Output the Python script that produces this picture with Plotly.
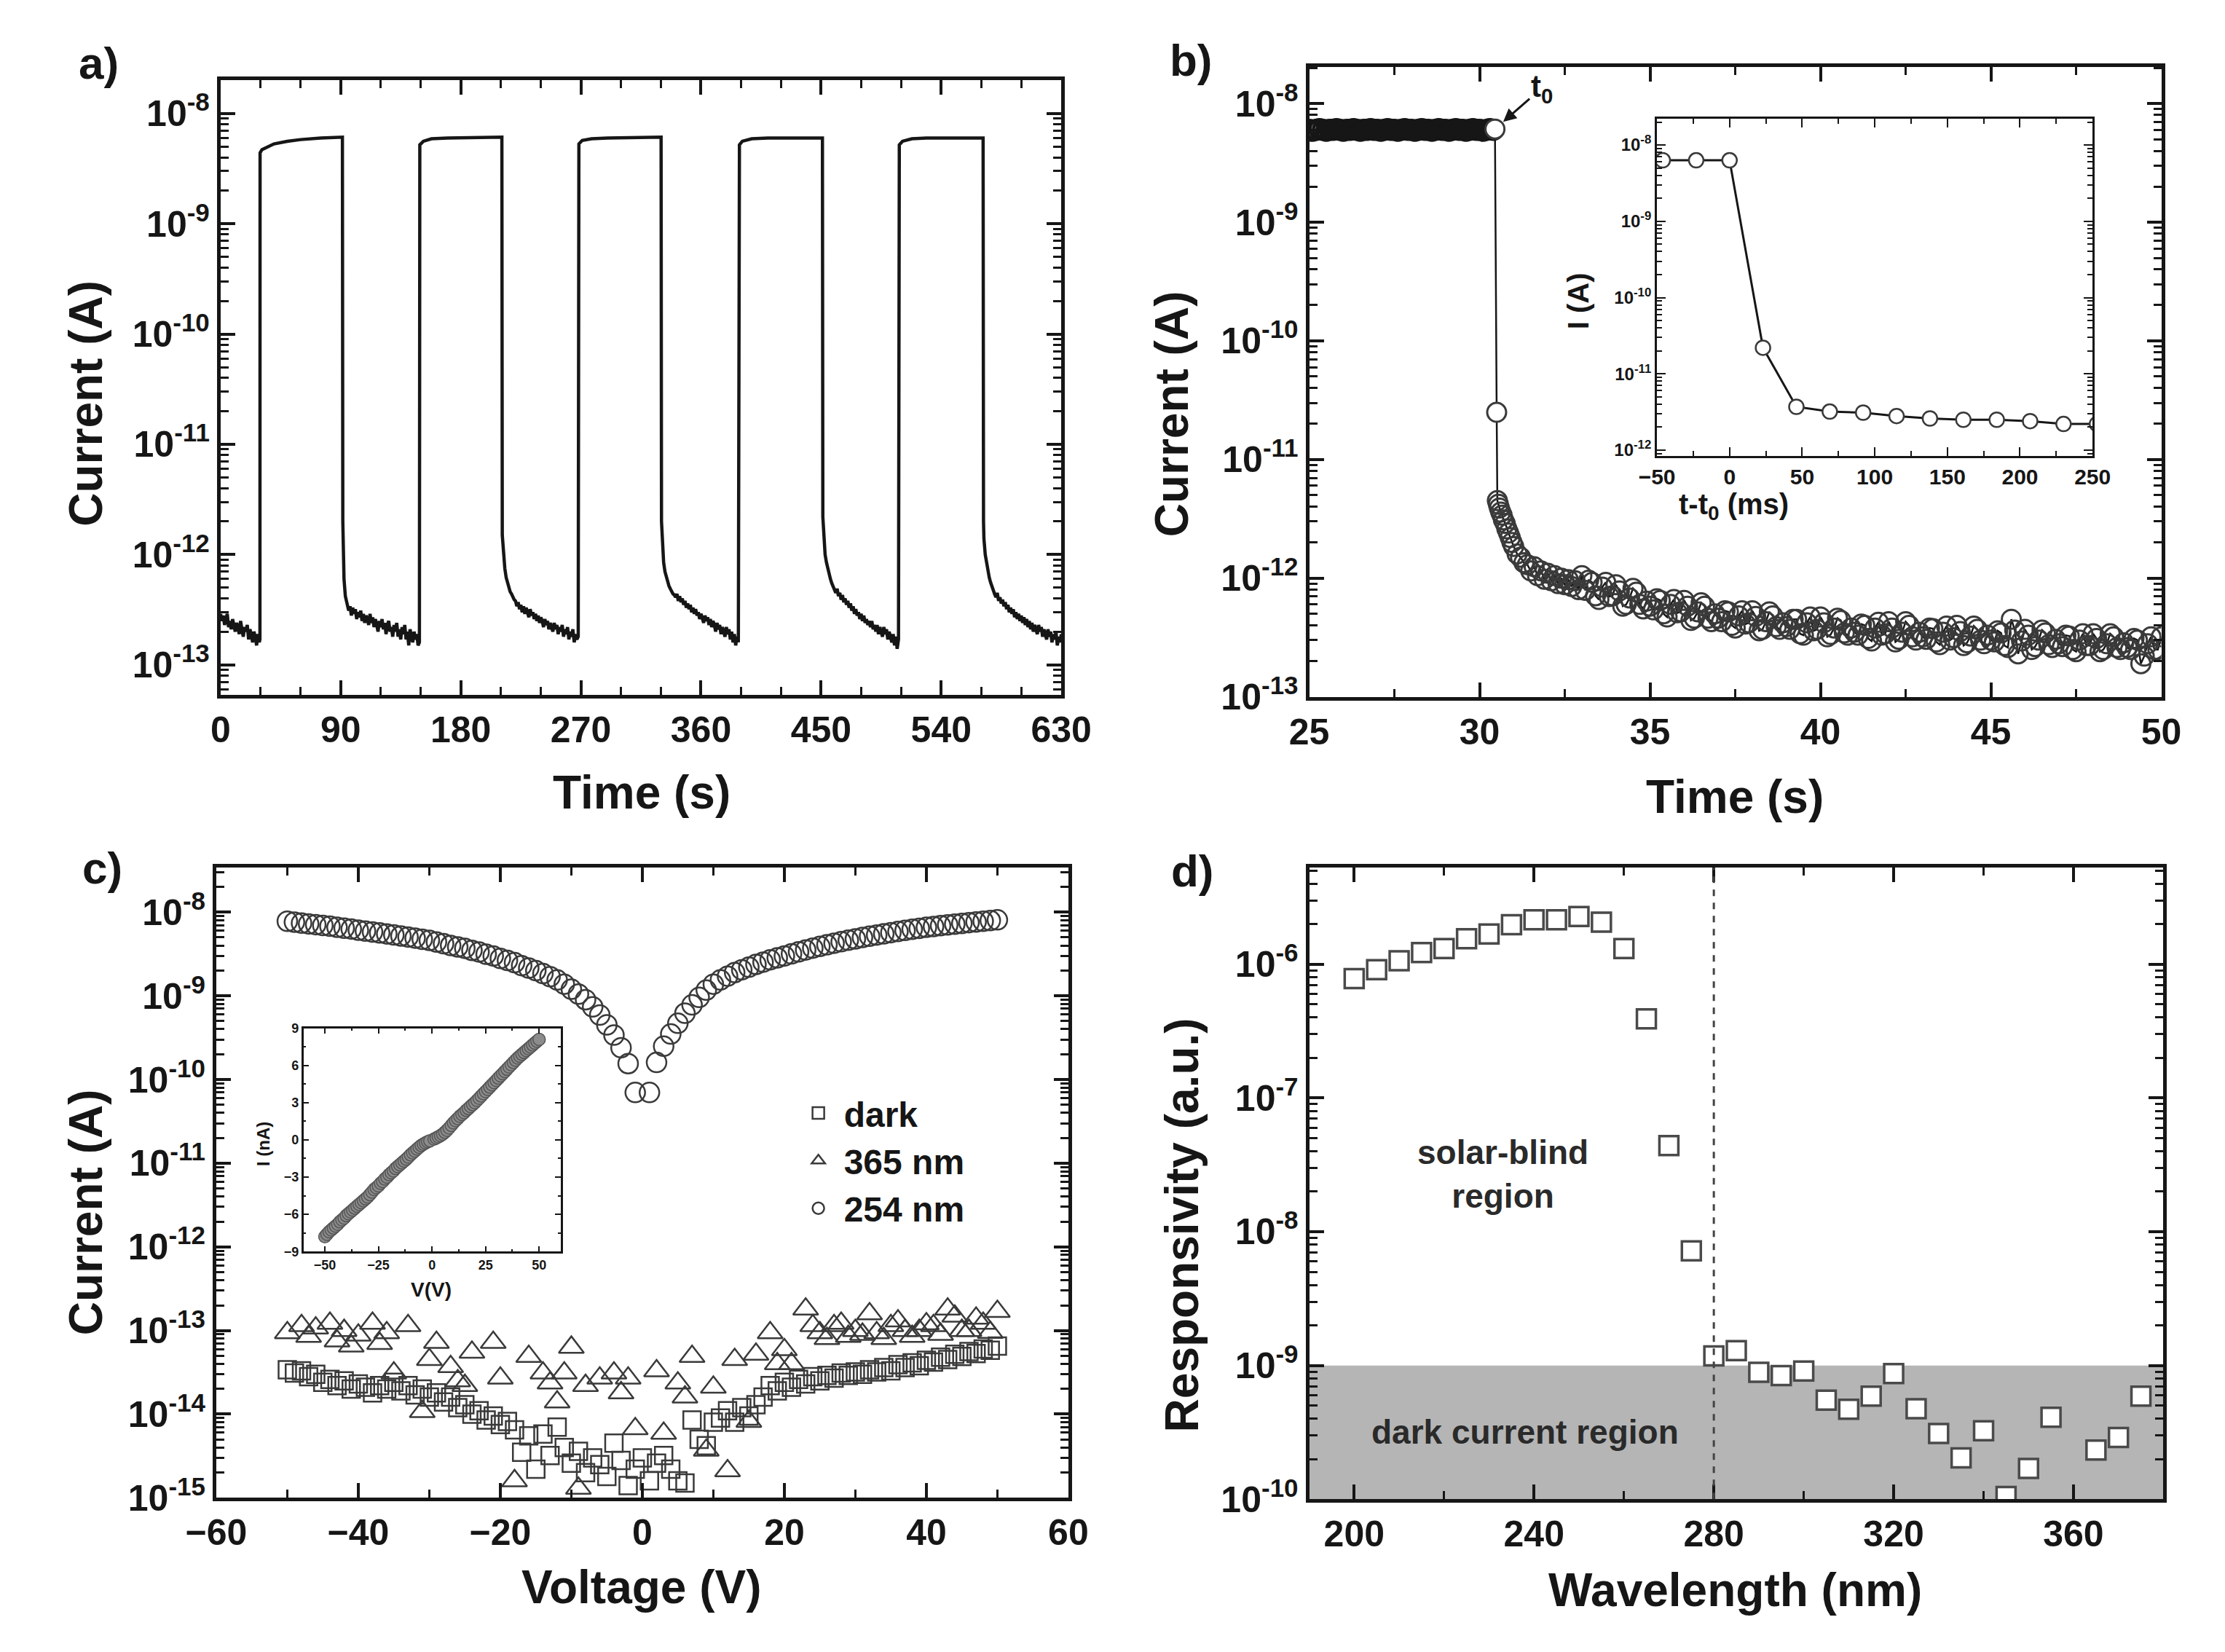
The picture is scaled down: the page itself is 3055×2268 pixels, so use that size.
import math
import plotly.graph_objects as go

W, H = 3055, 2268
FONT = "Liberation Sans, Arial, Helvetica, sans-serif"
INK = "#161616"
MARK = "#3a3a3a"

# ---------------- a) on/off switching under 254 nm ----------------
T_A = [
    0, 1, 2, 3, 4, 5, 6, 7, 8, 9, 10, 11, 12, 13, 14, 15, 16, 17, 18, 19, 20, 21, 22, 23, 24, 25, 26, 27,
    28, 29, 29.5,
    29.6, 31, 35, 40, 50, 60, 75, 91.3,
    91.6, 92.5, 93.5, 95, 96, 97, 98, 99, 100, 101, 102, 103, 104, 105, 106, 107, 108, 109, 110, 111,
    112, 113, 114, 115, 116, 117, 118, 119, 120, 121, 122, 123, 124, 125, 126, 127, 128, 129, 130, 131,
    132, 133, 134, 135, 136, 137, 138, 139, 140, 141, 142, 143, 144, 145, 146, 147, 148, 149,
    149.3, 152, 158, 170, 190, 210.8,
    211.1, 212, 213, 214, 215, 216, 217, 218, 219, 220, 221, 222, 223, 224, 225, 226, 227, 228, 229,
    230, 231, 232, 233, 234, 235, 236, 237, 238, 239, 240, 241, 242, 243, 244, 245, 246, 247, 248, 249,
    250, 251, 252, 253, 254, 255, 256, 257, 258, 259, 260, 261, 262, 263, 264, 265, 266, 267, 268,
    268.5, 271, 278, 290, 310, 330.1,
    330.4, 331, 332, 333, 334, 335, 336, 337, 338, 339, 340, 341, 342, 343, 344, 345, 346, 347, 348,
    349, 350, 351, 352, 353, 354, 355, 356, 357, 358, 359, 360, 361, 362, 363, 364, 365, 366, 367, 368,
    369, 370, 371, 372, 373, 374, 375, 376, 377, 378, 379, 380, 381, 382, 383, 384, 385, 386, 387, 388,
    388.8, 391, 398, 410, 430, 451,
    451.3, 452, 453, 454, 455, 456, 457, 458, 459, 460, 461, 462, 463, 464, 465, 466, 467, 468, 469,
    470, 471, 472, 473, 474, 475, 476, 477, 478, 479, 480, 481, 482, 483, 484, 485, 486, 487, 488, 489,
    490, 491, 492, 493, 494, 495, 496, 497, 498, 499, 500, 501, 502, 503, 504, 505, 506, 507, 508,
    508.6, 511, 518, 530, 550, 571.4,
    571.7, 572, 573, 574, 575, 576, 577, 578, 579, 580, 581, 582, 583, 584, 585, 586, 587, 588, 589,
    590, 591, 592, 593, 594, 595, 596, 597, 598, 599, 600, 601, 602, 603, 604, 605, 606, 607, 608, 609,
    610, 611, 612, 613, 614, 615, 616, 617, 618, 619, 620, 621, 622, 623, 624, 625, 626, 627, 628, 629,
    630,
]
I_A = [
    2.9e-13, 2.5e-13, 2.8e-13, 2.3e-13, 2.6e-13, 2.9e-13, 2.2e-13, 2.5e-13, 2.1e-13, 2.6e-13, 2.3e-13,
    2.0e-13, 2.4e-13, 2.2e-13, 1.9e-13, 2.5e-13, 2.1e-13, 1.8e-13, 2.2e-13, 2.0e-13, 2.3e-13, 1.7e-13,
    2.1e-13, 1.9e-13, 1.6e-13, 2.0e-13, 1.8e-13, 1.5e-13, 1.9e-13, 1.6e-13, 1.7e-13,
    4.4e-9, 4.7e-9, 5.0e-9, 5.3e-9, 5.6e-9, 5.8e-9, 6.0e-9, 6.1e-9,
    2.0e-12, 6.0e-13, 4.2e-13, 3.6e-13, 3.1e-13, 3.4e-13, 2.8e-13, 3.3e-13, 2.9e-13, 3.2e-13, 2.6e-13,
    3.0e-13, 2.7e-13, 3.1e-13, 2.5e-13, 2.9e-13, 2.4e-13, 2.8e-13, 2.6e-13, 2.3e-13, 2.9e-13, 2.4e-13,
    2.7e-13, 2.2e-13, 2.6e-13, 2.3e-13, 2.0e-13, 2.5e-13, 2.2e-13, 2.6e-13, 2.1e-13, 2.4e-13, 1.9e-13,
    2.3e-13, 2.5e-13, 2.0e-13, 2.2e-13, 1.8e-13, 2.3e-13, 2.0e-13, 2.4e-13, 1.8e-13, 2.1e-13, 1.7e-13,
    2.2e-13, 1.9e-13, 2.3e-13, 1.7e-13, 2.0e-13, 1.5e-13, 2.1e-13, 1.8e-13, 1.6e-13, 2.0e-13, 1.7e-13,
    1.9e-13, 1.5e-13, 1.6e-13,
    5.2e-9, 5.6e-9, 5.9e-9, 6.0e-9, 6.1e-9, 6.1e-9,
    1.5e-12, 9.5e-13, 7.5e-13, 6.2e-13, 5.5e-13, 5.0e-13, 4.6e-13, 4.4e-13, 4.1e-13, 3.9e-13, 3.8e-13,
    3.4e-13, 3.7e-13, 3.2e-13, 3.5e-13, 3.0e-13, 3.4e-13, 2.9e-13, 3.3e-13, 3.0e-13, 2.7e-13, 3.2e-13,
    2.8e-13, 3.0e-13, 2.6e-13, 2.9e-13, 2.5e-13, 2.8e-13, 2.4e-13, 2.7e-13, 2.5e-13, 2.2e-13, 2.6e-13,
    2.3e-13, 2.5e-13, 2.1e-13, 2.4e-13, 2.2e-13, 2.0e-13, 2.4e-13, 2.1e-13, 2.3e-13, 1.9e-13, 2.2e-13,
    2.0e-13, 2.3e-13, 1.8e-13, 2.1e-13, 1.9e-13, 2.2e-13, 1.7e-13, 2.0e-13, 1.8e-13, 2.1e-13, 1.6e-13,
    1.9e-13, 1.7e-13, 1.8e-13,
    5.3e-9, 5.7e-9, 5.9e-9, 6.0e-9, 6.1e-9, 6.1e-9,
    2.0e-12, 1.2e-12, 8.5e-13, 7.0e-13, 6.2e-13, 5.6e-13, 5.2e-13, 4.9e-13, 4.6e-13, 4.4e-13, 4.3e-13,
    4.1e-13, 4.4e-13, 3.8e-13, 4.2e-13, 3.7e-13, 4.0e-13, 3.5e-13, 3.8e-13, 3.3e-13, 3.6e-13, 3.2e-13,
    3.5e-13, 3.0e-13, 3.3e-13, 2.9e-13, 3.2e-13, 2.8e-13, 3.0e-13, 2.6e-13, 2.9e-13, 2.7e-13, 2.4e-13,
    2.8e-13, 2.5e-13, 2.7e-13, 2.3e-13, 2.6e-13, 2.2e-13, 2.5e-13, 2.3e-13, 2.0e-13, 2.4e-13, 2.1e-13,
    2.3e-13, 1.9e-13, 2.2e-13, 2.0e-13, 1.8e-13, 2.2e-13, 1.9e-13, 2.1e-13, 1.7e-13, 2.0e-13, 1.6e-13,
    1.9e-13, 1.5e-13, 1.8e-13, 1.6e-13,
    5.2e-9, 5.6e-9, 5.9e-9, 6.0e-9, 6.0e-9, 6.0e-9,
    2.2e-12, 1.4e-12, 1.0e-12, 8.5e-13, 7.4e-13, 6.6e-13, 6.0e-13, 5.5e-13, 5.1e-13, 4.8e-13, 4.5e-13,
    4.9e-13, 4.2e-13, 4.5e-13, 3.9e-13, 4.3e-13, 3.7e-13, 4.0e-13, 3.5e-13, 3.8e-13, 3.3e-13, 3.6e-13,
    3.1e-13, 3.4e-13, 2.9e-13, 3.2e-13, 2.8e-13, 3.0e-13, 2.6e-13, 2.9e-13, 2.5e-13, 2.8e-13, 2.4e-13,
    2.6e-13, 2.3e-13, 2.5e-13, 2.2e-13, 2.5e-13, 2.1e-13, 2.3e-13, 2.0e-13, 2.3e-13, 1.9e-13, 2.2e-13,
    2.0e-13, 1.8e-13, 2.2e-13, 1.9e-13, 2.1e-13, 1.7e-13, 2.0e-13, 1.8e-13, 1.6e-13, 1.9e-13, 1.5e-13,
    1.8e-13, 1.4e-13, 1.7e-13,
    5.2e-9, 5.6e-9, 5.9e-9, 6.0e-9, 6.0e-9, 6.0e-9,
    2.0e-12, 1.4e-12, 1.0e-12, 8.2e-13, 7.0e-13, 6.2e-13, 5.6e-13, 5.1e-13, 4.7e-13, 4.4e-13, 4.1e-13,
    4.5e-13, 3.8e-13, 4.1e-13, 3.6e-13, 3.9e-13, 3.4e-13, 3.7e-13, 3.2e-13, 3.5e-13, 3.0e-13, 3.3e-13,
    2.9e-13, 3.2e-13, 2.7e-13, 3.0e-13, 2.6e-13, 2.9e-13, 2.5e-13, 2.8e-13, 2.4e-13, 2.7e-13, 2.3e-13,
    2.6e-13, 2.2e-13, 2.5e-13, 2.1e-13, 2.4e-13, 2.0e-13, 2.3e-13, 2.1e-13, 1.9e-13, 2.3e-13, 2.0e-13,
    2.2e-13, 1.8e-13, 2.1e-13, 1.9e-13, 1.7e-13, 2.1e-13, 1.8e-13, 2.0e-13, 1.6e-13, 1.9e-13, 1.7e-13,
    2.0e-13, 1.5e-13, 1.8e-13, 1.6e-13, 1.9e-13,
]

# ---------------- b) decay after switching off ----------------
T_B_LIGHT = [
    25.0, 25.1, 25.2, 25.3, 25.4, 25.5, 25.6, 25.7, 25.8, 25.9,
    26.0, 26.1, 26.2, 26.3, 26.4, 26.5, 26.6, 26.7, 26.8, 26.9,
    27.0, 27.1, 27.2, 27.3, 27.4, 27.5, 27.6, 27.7, 27.8, 27.9,
    28.0, 28.1, 28.2, 28.3, 28.4, 28.5, 28.6, 28.7, 28.8, 28.9,
    29.0, 29.1, 29.2, 29.3, 29.4, 29.5, 29.6, 29.7, 29.8, 29.9,
    30.0, 30.1, 30.2, 30.3, 30.4, 30.45,
]
I_B_LIGHT = [
    6.0e-9, 5.9e-9, 6.0e-9, 6.1e-9, 6.0e-9, 5.9e-9, 6.0e-9, 6.0e-9, 6.1e-9, 6.0e-9,
    5.9e-9, 6.0e-9, 6.0e-9, 6.1e-9, 6.0e-9, 5.9e-9, 6.0e-9, 6.0e-9, 6.1e-9, 6.0e-9,
    6.0e-9, 5.9e-9, 6.0e-9, 6.1e-9, 6.0e-9, 6.0e-9, 5.9e-9, 6.0e-9, 6.1e-9, 6.0e-9,
    6.0e-9, 5.9e-9, 6.0e-9, 6.1e-9, 6.0e-9, 6.0e-9, 5.9e-9, 6.0e-9, 6.1e-9, 6.0e-9,
    6.0e-9, 5.9e-9, 6.0e-9, 6.1e-9, 6.0e-9, 6.0e-9, 5.9e-9, 6.0e-9, 6.1e-9, 6.0e-9,
    6.0e-9, 5.9e-9, 6.0e-9, 6.1e-9, 6.0e-9, 6.1e-9,
]
T_B_DARK = [
    30.50, 30.52, 30.55, 30.58, 30.62, 30.66, 30.70, 30.75, 30.80, 30.85, 30.90, 30.95,
    31.0, 31.1, 31.2, 31.3, 31.4, 31.5, 31.6, 31.7, 31.8, 31.9,
    32.0, 32.1, 32.2, 32.3, 32.4, 32.5, 32.6, 32.7, 32.8, 32.9, 33.0,
    33.1, 33.2, 33.3, 33.4, 33.5, 33.6, 33.7, 33.8, 33.9, 34.0,
    34.1, 34.2, 34.3, 34.4, 34.5, 34.6, 34.7, 34.8, 34.9, 35.0,
    35.1, 35.2, 35.3, 35.4, 35.5, 35.6, 35.7, 35.8, 35.9, 36.0,
    36.1, 36.2, 36.3, 36.4, 36.5, 36.6, 36.7, 36.8, 36.9, 37.0,
    37.1, 37.2, 37.3, 37.4, 37.5, 37.6, 37.7, 37.8, 37.9, 38.0,
    38.1, 38.2, 38.3, 38.4, 38.5, 38.6, 38.7, 38.8, 38.9, 39.0,
    39.1, 39.2, 39.3, 39.4, 39.5, 39.6, 39.7, 39.8, 39.9, 40.0,
    40.1, 40.2, 40.3, 40.4, 40.5, 40.6, 40.7, 40.8, 40.9, 41.0,
    41.1, 41.2, 41.3, 41.4, 41.5, 41.6, 41.7, 41.8, 41.9, 42.0,
    42.1, 42.2, 42.3, 42.4, 42.5, 42.6, 42.7, 42.8, 42.9, 43.0,
    43.1, 43.2, 43.3, 43.4, 43.5, 43.6, 43.7, 43.8, 43.9, 44.0,
    44.1, 44.2, 44.3, 44.4, 44.5, 44.6, 44.7, 44.8, 44.9, 45.0,
    45.1, 45.2, 45.3, 45.4, 45.5, 45.6, 45.7, 45.8, 45.9, 46.0,
    46.1, 46.2, 46.3, 46.4, 46.5, 46.6, 46.7, 46.8, 46.9, 47.0,
    47.1, 47.2, 47.3, 47.4, 47.5, 47.6, 47.7, 47.8, 47.9, 48.0,
    48.1, 48.2, 48.3, 48.4, 48.5, 48.6, 48.7, 48.8, 48.9, 49.0,
    49.1, 49.2, 49.3, 49.4, 49.5, 49.6, 49.7, 49.8, 49.9, 50.0,
]
I_B_DARK = [
    2.5e-11, 4.5e-12, 4.2e-12, 3.9e-12, 3.6e-12, 3.4e-12, 3.1e-12, 2.9e-12, 2.6e-12, 2.4e-12, 2.2e-12, 2.0e-12,
    1.85e-12, 1.6e-12, 1.5e-12, 1.35e-12, 1.3e-12, 1.15e-12, 1.25e-12, 1.05e-12, 1.15e-12, 9.8e-13,
    1.1e-12, 9.5e-13, 1.05e-12, 9.0e-13, 1.0e-12, 8.8e-13, 9.7e-13, 8.5e-13, 9.5e-13, 8.0e-13, 1.05e-12,
    7.9e-13, 9.6e-13, 9.2e-13, 7.1e-13, 6.6e-13, 8.4e-13, 9.2e-13, 7.0e-13, 7.1e-13, 8.8e-13,
    7.8e-13, 5.8e-13, 6.0e-13, 6.8e-13, 8.2e-13, 7.6e-13, 6.0e-13, 5.5e-13, 6.4e-13, 5.8e-13,
    5.4e-13, 6.7e-13, 6.5e-13, 5.0e-13, 4.7e-13, 6.0e-13, 6.6e-13, 5.1e-13, 5.2e-13, 6.5e-13,
    5.8e-13, 4.4e-13, 4.6e-13, 5.2e-13, 6.2e-13, 5.8e-13, 4.6e-13, 4.3e-13, 5.0e-13, 4.6e-13,
    4.3e-13, 5.3e-13, 5.2e-13, 4.0e-13, 3.8e-13, 4.8e-13, 5.3e-13, 4.1e-13, 4.2e-13, 5.3e-13,
    4.75e-13, 3.6e-13, 3.7e-13, 4.3e-13, 5.2e-13, 4.8e-13, 3.9e-13, 3.7e-13, 4.2e-13, 3.9e-13,
    3.7e-13, 4.5e-13, 4.5e-13, 3.4e-13, 3.3e-13, 4.2e-13, 4.7e-13, 3.6e-13, 3.7e-13, 4.7e-13,
    4.2e-13, 3.2e-13, 3.35e-13, 3.8e-13, 4.6e-13, 4.4e-13, 3.45e-13, 3.3e-13, 3.8e-13, 3.5e-13,
    3.3e-13, 4.1e-13, 4.0e-13, 3.1e-13, 2.95e-13, 3.8e-13, 4.25e-13, 3.3e-13, 3.4e-13, 4.3e-13,
    3.8e-13, 2.9e-13, 3.05e-13, 3.5e-13, 4.3e-13, 4.0e-13, 3.2e-13, 3.0e-13, 3.5e-13, 3.2e-13,
    3.05e-13, 3.8e-13, 3.75e-13, 2.9e-13, 2.75e-13, 3.5e-13, 3.95e-13, 3.0e-13, 3.15e-13, 4.0e-13,
    3.55e-13, 2.7e-13, 2.85e-13, 3.25e-13, 3.95e-13, 3.7e-13, 3.0e-13, 2.8e-13, 3.3e-13, 3.0e-13,
    2.9e-13, 3.6e-13, 3.45e-13, 2.7e-13, 2.6e-13, 4.5e-13, 3.65e-13, 2.3e-13, 2.95e-13, 3.7e-13,
    3.3e-13, 2.5e-13, 2.65e-13, 3.0e-13, 3.65e-13, 3.45e-13, 2.75e-13, 2.6e-13, 3.05e-13, 2.8e-13,
    2.65e-13, 3.3e-13, 3.25e-13, 2.5e-13, 2.4e-13, 3.0e-13, 3.4e-13, 2.7e-13, 2.7e-13, 3.4e-13,
    3.1e-13, 2.4e-13, 2.5e-13, 2.8e-13, 3.4e-13, 3.2e-13, 2.6e-13, 2.5e-13, 2.85e-13, 2.6e-13,
    2.5e-13, 3.1e-13, 3.0e-13, 1.9e-13, 2.2e-13, 2.8e-13, 3.2e-13, 2.5e-13, 2.5e-13, 3.2e-13,
]
# inset of b): first points after t0
DT_INSET = [-46, -23, 0, 23, 46, 69, 92, 115, 138, 161, 184, 207, 230, 253]
I_INSET = [6.3e-9, 6.3e-9, 6.3e-9, 2.2e-11, 3.7e-12, 3.2e-12, 3.1e-12, 2.8e-12, 2.6e-12,
           2.5e-12, 2.5e-12, 2.4e-12, 2.2e-12, 2.2e-12]

# ---------------- c) I-V curves ----------------
V_254 = [
    -50, -49, -48, -47, -46, -45, -44, -43, -42, -41, -40, -39, -38, -37, -36, -35, -34, -33, -32, -31,
    -30, -29, -28, -27, -26, -25, -24, -23, -22, -21, -20, -19, -18, -17, -16, -15, -14, -13, -12, -11,
    -10, -9, -8, -7, -6, -5, -4, -3, -2, -1,
    1, 2, 3, 4, 5, 6, 7, 8, 9, 10, 11, 12, 13, 14, 15, 16, 17, 18, 19, 20,
    21, 22, 23, 24, 25, 26, 27, 28, 29, 30, 31, 32, 33, 34, 35, 36, 37, 38, 39, 40,
    41, 42, 43, 44, 45, 46, 47, 48, 49, 50,
]
I_254 = [
    7.8e-9, 7.6e-9, 7.4e-9, 7.25e-9, 7.1e-9, 6.95e-9, 6.8e-9, 6.6e-9, 6.45e-9, 6.3e-9,
    6.1e-9, 5.95e-9, 5.8e-9, 5.65e-9, 5.5e-9, 5.35e-9, 5.2e-9, 5.05e-9, 4.9e-9, 4.75e-9,
    4.6e-9, 4.4e-9, 4.2e-9, 4.0e-9, 3.85e-9, 3.7e-9, 3.5e-9, 3.35e-9, 3.15e-9, 3.0e-9,
    2.8e-9, 2.65e-9, 2.5e-9, 2.3e-9, 2.15e-9, 2.0e-9, 1.85e-9, 1.7e-9, 1.55e-9, 1.38e-9,
    1.2e-9, 1.05e-9, 9.0e-10, 7.4e-10, 5.9e-10, 4.5e-10, 3.4e-10, 2.4e-10, 1.55e-10, 7.0e-11,
    7.0e-11, 1.6e-10, 2.5e-10, 3.5e-10, 4.7e-10, 6.2e-10, 7.8e-10, 9.6e-10, 1.17e-9, 1.38e-9,
    1.55e-9, 1.72e-9, 1.9e-9, 2.05e-9, 2.2e-9, 2.38e-9, 2.53e-9, 2.7e-9, 2.85e-9, 3.0e-9,
    3.18e-9, 3.36e-9, 3.54e-9, 3.72e-9, 3.9e-9, 4.08e-9, 4.26e-9, 4.44e-9, 4.62e-9, 4.8e-9,
    4.98e-9, 5.16e-9, 5.34e-9, 5.52e-9, 5.7e-9, 5.88e-9, 6.06e-9, 6.24e-9, 6.42e-9, 6.6e-9,
    6.75e-9, 6.9e-9, 7.05e-9, 7.2e-9, 7.35e-9, 7.5e-9, 7.65e-9, 7.8e-9, 7.95e-9, 8.1e-9,
]
V_DARK = [
    -50, -49, -48, -47, -46, -45, -44, -43, -42, -41, -40, -39, -38, -37, -36, -35, -34, -33, -32, -31,
    -30, -29, -28, -27, -26, -25, -24, -23, -22, -21, -20, -19, -18, -17, -16, -15, -14, -13, -12, -11,
    -10, -9, -8, -7, -6, -5, -4, -3, -2, -1, 0,
    1, 2, 3, 4, 5, 6, 7, 8, 9, 10, 11, 12, 13, 14, 15, 16, 17, 18, 19, 20,
    21, 22, 23, 24, 25, 26, 27, 28, 29, 30, 31, 32, 33, 34, 35, 36, 37, 38, 39, 40,
    41, 42, 43, 44, 45, 46, 47, 48, 49, 50,
]
I_DARK = [
    3.4e-14, 3.1e-14, 3.3e-14, 2.8e-14, 3.0e-14, 2.4e-14, 2.6e-14, 2.2e-14, 2.5e-14, 2.0e-14,
    2.3e-14, 2.1e-14, 1.8e-14, 2.2e-14, 2.0e-14, 2.4e-14, 1.9e-14, 2.2e-14, 1.7e-14, 2.0e-14,
    1.6e-14, 1.8e-14, 1.4e-14, 1.6e-14, 1.2e-14, 1.3e-14, 1.0e-14, 1.1e-14, 8.5e-15, 9.5e-15,
    7.5e-15, 8.2e-15, 6.5e-15, 3.5e-15, 5.5e-15, 2.2e-15, 5.8e-15, 3.2e-15, 7.0e-15, 4.0e-15,
    2.6e-15, 3.6e-15, 2.0e-15, 3.0e-15, 2.5e-15, 1.8e-15, 4.5e-15, 2.8e-15, 1.4e-15, 2.2e-15, 3.0e-15,
    1.6e-15, 2.6e-15, 3.2e-15, 2.2e-15, 1.6e-15, 1.5e-15, 8.5e-15, 5.0e-15, 4.2e-15, 8.0e-15,
    9.0e-15, 1.1e-14, 8.0e-15, 1.2e-14, 9.5e-15, 1.3e-14, 1.6e-14, 2.2e-14, 1.9e-14, 2.4e-14,
    2.1e-14, 2.6e-14, 2.3e-14, 2.8e-14, 2.5e-14, 2.9e-14, 2.7e-14, 3.1e-14, 2.9e-14, 3.2e-14,
    3.0e-14, 3.4e-14, 3.2e-14, 3.6e-14, 3.3e-14, 3.9e-14, 3.6e-14, 4.1e-14, 3.8e-14, 4.4e-14,
    4.2e-14, 4.8e-14, 4.5e-14, 5.2e-14, 4.9e-14, 5.6e-14, 5.3e-14, 6.0e-14, 5.8e-14, 6.5e-14,
]
V_365 = [
    -50, -48, -47, -46, -44, -43, -42, -41, -40, -38, -37, -36, -35, -33, -31, -30, -29, -27, -26, -25,
    -24, -21, -20, -18, -16, -14, -13, -12, -11, -10, -9, -8, -6, -4, -3, -2, -1,
    2, 3, 5, 6, 7, 9, 10, 12, 13, 15, 16, 18, 19, 20, 21, 23, 24, 25, 26, 27, 28, 29, 30,
    31, 32, 33, 34, 35, 36, 37, 38, 39, 40, 41, 42, 43, 44, 45, 46, 47, 48, 49, 50,
]
I_365 = [
    9.4e-14, 1.14e-13, 8.5e-14, 1.07e-13, 1.22e-13, 7.5e-14, 1.0e-13, 6.5e-14, 8.8e-14, 1.22e-13,
    7.0e-14, 9.4e-14, 3.1e-14, 1.14e-13, 1.07e-14, 4.5e-14, 7.2e-14, 3.7e-14, 2.5e-14, 2.2e-14,
    5.5e-14, 7.2e-14, 2.7e-14, 1.6e-15, 4.9e-14, 3.1e-14, 2.35e-14, 1.4e-14, 3.1e-14, 6.3e-14,
    1.3e-15, 2.2e-14, 2.7e-14, 3.1e-14, 1.8e-14, 2.7e-14, 6.7e-15,
    3.3e-14, 5.9e-15, 2.35e-14, 1.6e-14, 4.9e-14, 3.7e-15, 2.1e-14, 2.1e-15, 4.5e-14, 8.2e-15,
    5.2e-14, 9.4e-14, 4.0e-14, 5.9e-14, 4.0e-14, 1.8e-13, 1.14e-13, 9.4e-14, 8.0e-14, 1.14e-13,
    1.22e-13, 8.5e-14, 1.0e-13,
    9.0e-14, 1.58e-13, 9.4e-14, 8.0e-14, 1.14e-13, 1.3e-13, 1.0e-13, 8.5e-14, 1.0e-13, 1.2e-13,
    1.14e-13, 9.0e-14, 1.8e-13, 1.48e-13, 1.0e-13, 1.0e-13, 1.4e-13, 1.22e-13, 9.5e-14, 1.69e-13,
]

# ---------------- d) spectral responsivity ----------------
WAVELENGTH = [200, 205, 210, 215, 220, 225, 230, 235, 240, 245, 250, 255, 260, 265, 270, 275, 280,
              285, 290, 295, 300, 305, 310, 315, 320, 325, 330, 335, 340, 345, 350, 355, 365, 370, 375]
RESPONSIVITY = [7.8e-7, 9.1e-7, 1.06e-6, 1.22e-6, 1.31e-6, 1.55e-6, 1.68e-6, 1.97e-6, 2.15e-6,
                2.15e-6, 2.27e-6, 2.06e-6, 1.31e-6, 3.9e-7, 4.4e-8, 7.2e-9, 1.18e-9, 1.29e-9,
                8.9e-10, 8.4e-10, 9.1e-10, 5.5e-10, 4.7e-10, 5.9e-10, 8.7e-10, 4.75e-10, 3.1e-10,
                2.04e-10, 3.25e-10, 1.05e-10, 1.7e-10, 4.1e-10, 2.33e-10, 2.9e-10, 5.9e-10]
DARK_LEVEL = 1e-9
CUTOFF_NM = 280


def px(x, y):
    """pixel position in the 3055x2268 page -> paper coords"""
    return x / W, 1 - y / H


def dom_x(a, b):
    return [a / W, b / W]


def dom_y(top, bottom):
    return [1 - bottom / H, 1 - top / H]


def log_ticks(lo, hi):
    exps = list(range(lo, hi + 1))
    return [10.0 ** e for e in exps], [f"10<sup>{e}</sup>" for e in exps]


def log_minor(lo, hi):
    return [m * 10.0 ** e for e in range(lo, hi) for m in range(2, 10)]


def frame(domain, rng, anchor, log=False, dtick=None, tick0=0, minor_dtick=None, log_span=None,
          size=50, lw=5, tlen=20):
    ax = dict(domain=domain, range=rng, anchor=anchor, type="log" if log else "linear",
              showline=True, linewidth=lw, linecolor=INK, mirror="allticks",
              ticks="inside", ticklen=tlen, tickwidth=max(lw - 1, 2), tickcolor=INK,
              showgrid=False, zeroline=False, fixedrange=True,
              tickfont=dict(family=FONT, size=size, color=INK, weight="bold"))
    minor = dict(ticks="inside", ticklen=round(tlen * 0.55), tickwidth=max(lw - 2, 2), tickcolor=INK)
    if log:
        vals, text = log_ticks(*log_span)
        ax.update(tickmode="array", tickvals=vals, ticktext=text)
        minor.update(tickmode="array", tickvals=log_minor(log_span[0] - 1, log_span[1] + 1))
    else:
        ax.update(tick0=tick0, dtick=dtick)
        minor.update(tick0=tick0, dtick=minor_dtick)
    ax["minor"] = minor
    return ax


fig = go.Figure()

# a)
fig.add_trace(go.Scatter(x=T_A, y=I_A, mode="lines", line=dict(color=INK, width=4.5),
                         xaxis="x", yaxis="y", showlegend=False))

# b) light-on points are drawn heavier so that they merge into the dark band; t0 and the
# first dark point are white-filled like in the original
n_on, n_off = len(T_B_LIGHT), len(T_B_DARK)
b_fill = ["rgba(0,0,0,0)"] * (n_on - 1) + ["white", "white"] + ["rgba(0,0,0,0)"] * (n_off - 1)
b_edge = [INK] * (n_on - 1) + [MARK] * (n_off + 1)
b_width = [4.5] * (n_on - 1) + [3] * (n_off + 1)
fig.add_trace(go.Scatter(x=T_B_LIGHT + T_B_DARK, y=I_B_LIGHT + I_B_DARK, mode="lines+markers",
                         line=dict(color=INK, width=2.5),
                         marker=dict(symbol="circle", size=26, color=b_fill,
                                     line=dict(color=b_edge, width=b_width)),
                         xaxis="x2", yaxis="y2", showlegend=False))
fig.add_trace(go.Scatter(x=DT_INSET, y=I_INSET, mode="lines+markers", line=dict(color=INK, width=3),
                         marker=dict(symbol="circle", size=20, color="white",
                                     line=dict(color=MARK, width=2.5)),
                         xaxis="x5", yaxis="y5", showlegend=False))

# c)
fig.add_trace(go.Scatter(x=V_DARK, y=I_DARK, mode="markers", name="dark",
                         marker=dict(symbol="square", size=24, color="rgba(0,0,0,0)",
                                     line=dict(color=MARK, width=2.5)),
                         xaxis="x3", yaxis="y3"))
fig.add_trace(go.Scatter(x=V_365, y=I_365, mode="markers", name="365 nm",
                         marker=dict(symbol="triangle-up", size=30, color="rgba(0,0,0,0)",
                                     line=dict(color=MARK, width=2.5)),
                         xaxis="x3", yaxis="y3"))
fig.add_trace(go.Scatter(x=V_254, y=I_254, mode="markers", name="254 nm",
                         marker=dict(symbol="circle", size=27, color="rgba(0,0,0,0)",
                                     line=dict(color=MARK, width=2.5)),
                         xaxis="x3", yaxis="y3"))
# inset of c): same 254 nm sweep on a linear scale, in nA
I_254_NA = [(1 if v > 0 else -1) * i * 1e9 for v, i in zip(V_254, I_254)]
fig.add_trace(go.Scatter(x=V_254, y=I_254_NA, mode="markers",
                         marker=dict(symbol="circle", size=17, color="#8c8c8c",
                                     line=dict(color="#555555", width=1.5)),
                         xaxis="x6", yaxis="y6", showlegend=False))

# d)
fig.add_trace(go.Scatter(x=WAVELENGTH, y=RESPONSIVITY, mode="markers",
                         marker=dict(symbol="square", size=26, color="white",
                                     line=dict(color="#4a4a4a", width=3.5)),
                         xaxis="x4", yaxis="y4", showlegend=False))

layout_axes = dict(
    xaxis=frame(dom_x(260, 1447), [0, 630], "y", dtick=90, minor_dtick=30),
    yaxis=frame(dom_y(94, 952), [-13.27, -7.7], "x", log=True, log_span=(-13, -8)),
    xaxis2=frame(dom_x(1797, 3000), [25, 50], "y2", dtick=5, minor_dtick=2.5),
    yaxis2=frame(dom_y(75, 955), [-13, -7.69], "x2", log=True, log_span=(-13, -8)),
    xaxis3=frame(dom_x(254, 1457), [-60, 60], "y3", dtick=20, minor_dtick=10),
    yaxis3=frame(dom_y(1194, 2074), [-15, -7.47], "x3", log=True, log_span=(-15, -8)),
    xaxis4=frame(dom_x(1797, 3003), [190, 380], "y4", dtick=40, tick0=200, minor_dtick=20),
    yaxis4=frame(dom_y(1194, 2076), [-10, -5.28], "x4", log=True, log_span=(-10, -6)),
    xaxis5=frame(dom_x(2288, 2903), [-50, 250], "y5", dtick=50, minor_dtick=25, size=30, lw=3, tlen=12),
    yaxis5=frame(dom_y(148, 619), [-12.08, -7.66], "x5", log=True, log_span=(-12, -8), size=24, lw=3, tlen=12),
    xaxis6=frame(dom_x(377, 740), [-60, 60], "y6", dtick=25, minor_dtick=12.5, size=18, lw=2.5, tlen=8),
    yaxis6=frame(dom_y(1418, 1730), [-9, 9], "x6", dtick=3, minor_dtick=1.5, size=18, lw=2.5, tlen=8),
)


def label(text, x, y, size, angle=0, color=INK, **kw):
    px_, py_ = px(x, y)
    return dict(text=text, x=px_, y=py_, xref="paper", yref="paper", showarrow=False,
                textangle=angle, font=dict(family=FONT, size=size, color=color, weight="bold"),
                xanchor="center", yanchor="middle", **kw)


annotations = [
    label("a)", 88, 70, 62), label("b)", 1630, 66, 62),
    label("c)", 93, 1194, 62), label("d)", 1632, 1198, 62),
    label("Current (A)", 70, 545, 64, -90), label("Current (A)", 1603, 560, 64, -90),
    label("Current (A)", 70, 1675, 64, -90), label("Responsivity (a.u.)", 1617, 1693, 64, -90),
    label("Time (s)", 854, 1089, 64), label("Time (s)", 2398, 1095, 64),
    label("Voltage (V)", 854, 2199, 64), label("Wavelength (nm)", 2398, 2203, 64),
    label("I (A)", 2177, 402, 40, -90), label("t-t<sub>0</sub> (ms)", 2396, 689, 40),
    label("I (nA)", 321, 1580, 24, -90), label("V(V)", 557, 1783, 28),
    dict(text="solar-blind<br>region", x=233, y=-7.57, xref="x4", yref="y4", showarrow=False,
         font=dict(family=FONT, size=46, color="#2a2a2a", weight="bold")),
    dict(text="dark current region", x=238, y=-9.5, xref="x4", yref="y4", showarrow=False,
         font=dict(family=FONT, size=46, color="#2a2a2a", weight="bold")),
    dict(text="t<sub>0</sub>", x=T_B_LIGHT[-1], y=math.log10(I_B_LIGHT[-1]), xref="x2", yref="y2",
         showarrow=True, ax=64, ay=-56, arrowhead=2, arrowsize=1.2, arrowwidth=3, arrowcolor=INK,
         standoff=15, font=dict(family=FONT, size=42, color=INK, weight="bold")),
]

shapes = [
    dict(type="rect", xref="x4 domain", yref="y4", x0=0, x1=1, y0=1e-10, y1=DARK_LEVEL,
         fillcolor="#b5b5b5", line=dict(width=0), layer="below"),
    dict(type="line", xref="x4", yref="y4 domain", x0=CUTOFF_NM, x1=CUTOFF_NM, y0=0, y1=1,
         line=dict(color="#444444", width=3, dash="dash"), layer="above"),
]

fig.update_layout(
    width=W, height=H, margin=dict(l=0, r=0, t=0, b=0),
    paper_bgcolor="white", plot_bgcolor="white",
    annotations=annotations, shapes=shapes,
    showlegend=True,
    legend=dict(x=1068 / W, y=1 - 1498 / H, xanchor="left", yanchor="top",
                bgcolor="rgba(0,0,0,0)", itemsizing="trace", itemwidth=60,
                font=dict(family=FONT, size=48, color=INK, weight="bold")),
    **layout_axes,
)

fig.write_html("out.html")
